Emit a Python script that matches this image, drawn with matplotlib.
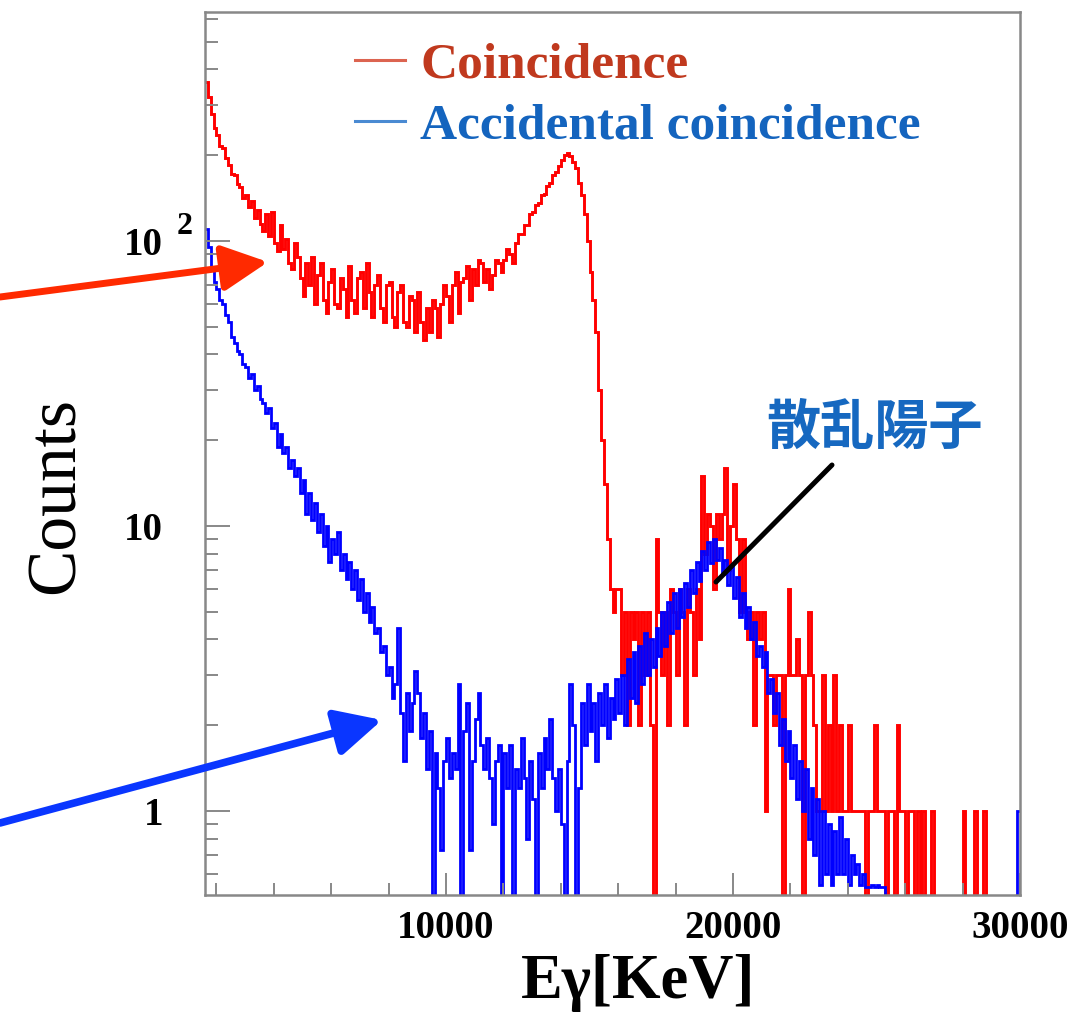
import numpy as np
import matplotlib
matplotlib.use("Agg")
import matplotlib.pyplot as plt
from matplotlib.lines import Line2D
from matplotlib.ticker import FixedLocator, NullFormatter, LogLocator

plt.rcParams['font.family'] = ['Liberation Serif', 'DejaVu Serif']

# histogram binning (keV)
e_start, e_stop, e_step = 1600, 30000, 100
edges = np.arange(e_start, e_stop + 1, e_step)

# Coincidence counts per 100 keV bin
coincidence = [
    360, 320, 280, 250, 235, 215, 212, 195, 185, 172, 170, 158, 155, 142, 145, 132, 138, 120, 128, 115,
    108, 124, 104, 126, 98, 92, 114, 94, 102, 84, 80, 98, 88, 74, 64, 84, 70, 88, 60, 76,
    84, 62, 56, 72, 80, 60, 58, 74, 68, 54, 82, 62, 56, 74, 78, 58, 84, 66, 54, 70,
    76, 58, 52, 70, 72, 54, 50, 66, 70, 52, 50, 64, 62, 48, 66, 52, 45, 58, 48, 62,
    58, 46, 60, 70, 64, 52, 70, 78, 56, 72, 74, 82, 62, 80, 70, 86, 84, 72, 80, 68,
    76, 86, 84, 78, 86, 94, 90, 84, 98, 106, 106, 114, 114, 124, 126, 134, 136, 145, 146, 156,
    160, 170, 174, 184, 192, 200, 204, 198, 190, 180, 160, 145, 124, 100, 78, 62, 48, 30, 20, 14,
    9, 6, 5, 6, 6, 3, 5, 2, 5, 4, 5, 2, 5, 3, 5, 2, 0, 9, 5, 3,
    5, 2, 6, 5, 3, 6, 5, 2, 6, 5, 3, 6, 4, 15, 8, 11, 10, 6, 11, 9,
    11, 16, 7, 10, 14, 9, 5, 9, 5, 4, 5, 2, 5, 4, 5, 1, 3, 3, 2, 3,
    3, 0, 3, 6, 3, 3, 4, 3, 0, 3, 5, 3, 2, 1, 1, 3, 1, 2, 1, 3,
    1, 2, 1, 1, 2, 1, 1, 1, 1, 1, 0, 1, 1, 2, 1, 1, 1, 0, 1, 1,
    0, 2, 1, 1, 0, 1, 1, 0, 1, 0, 1, 0, 0, 1, 0, 0, 0, 0, 0, 0,
    0, 0, 0, 0, 1, 0, 0, 0, 1, 0, 0, 1, 0, 0, 0, 0, 0, 0, 0, 0,
    0, 0, 0, 0,
]

# Accidental coincidence counts per 100 keV bin
accidental = [
    110, 95, 80, 72, 68, 62, 60, 55, 52, 46, 44, 41, 40, 37, 36, 33, 34, 30, 31, 28,
    27, 25, 26, 22, 23, 19, 21, 18, 19, 16, 17, 15, 16, 13, 14.5, 11, 13, 10.5, 12, 9.5,
    11, 8.5, 10, 7.5, 9, 8, 9.5, 7, 8, 6.5, 7.5, 6, 7, 5.5, 6.5, 5, 5.8, 4.6, 5.2, 4.2,
    4.4, 3.6, 3.8, 3.0, 3.2, 2.5, 2.8, 4.4, 2.2, 1.5, 2.6, 1.9, 2.4, 3.1, 2.6, 1.8, 2.2, 1.4, 1.9, 0,
    1.6, 1.2, 0.73, 1.5, 1.8, 1.3, 1.6, 1.4, 2.8, 0, 1.9, 2.4, 0.73, 1.5, 2.1, 2.6, 1.7, 1.4, 1.8, 1.3,
    0.9, 1.5, 1.7, 0, 1.6, 1.2, 1.7, 0, 1.4, 1.2, 1.8, 1.3, 0.8, 1.5, 1.1, 0, 1.6, 1.2, 1.8, 1.4,
    2.1, 1.3, 1.0, 1.4, 0.9, 0, 1.5, 2.8, 2.0, 0, 1.2, 2.4, 1.7, 2.8, 1.9, 2.4, 1.5, 2.6, 2.0, 2.8,
    1.8, 2.5, 2.1, 2.9, 2.2, 3.0, 2.0, 3.4, 2.5, 3.6, 2.4, 3.8, 2.8, 4.2, 3.0, 4.0, 3.2, 4.4, 3.5, 5.0,
    3.8, 5.4, 4.2, 5.8, 4.4, 6.0, 4.8, 6.3, 5.2, 7.0, 5.8, 7.5, 6.4, 8.2, 7.0, 8.8, 7.4, 9.0, 7.6, 8.4,
    6.8, 7.6, 6.2, 7.2, 5.6, 6.6, 4.8, 5.8, 4.4, 5.2, 4.0, 4.6, 3.5, 3.8, 3.2, 3.6, 2.6, 2.9, 2.2, 2.6,
    1.7, 2.1, 1.5, 1.9, 1.3, 1.7, 1.1, 1.5, 1.0, 1.4, 0.8, 1.2, 0.7, 1.1, 0.55, 1.0, 0.6, 0.9, 0.55, 0.85,
    0.6, 0.95, 0.6, 0.8, 0.55, 0.7, 0.6, 0.65, 0.55, 0.6, 0.54, 0.54, 0.55, 0.54, 0.55, 0.54, 0.54, 0, 0, 0,
    0, 0, 0, 0, 0, 0, 0, 0, 0, 0, 0, 0, 0, 0, 0, 0, 0, 0, 0, 0,
    0, 0, 0, 0, 0, 0, 0, 0, 0, 0, 0, 0, 0, 0, 0, 0, 0, 0, 0, 0,
    0, 0, 0, 1,
]

legend_labels = ['Coincidence', 'Accidental coincidence']
ytick_vals = [1, 10, 100]
ytick_text = ['1', '10', '10']
xtick_vals = [10000, 20000, 30000]

fig = plt.figure(figsize=(10.85, 10.13), dpi=100)
ax = fig.add_axes([205 / 1085, 1 - 895 / 1013, 815 / 1085, 883 / 1013])

ax.stairs(coincidence, edges, baseline=None, color='#ff0000', lw=2.1)
ax.stairs(accidental, edges, baseline=None, color='#0000ff', lw=2.0)

ax.set_yscale('log', nonpositive='clip')
ax.set_xlim(e_start, e_stop)
ax.set_ylim(0.507, 636)

# axes styling
for sp in ax.spines.values():
    sp.set_color('#888888')
    sp.set_linewidth(1.8)
ax.xaxis.set_major_locator(FixedLocator(xtick_vals))
ax.xaxis.set_minor_locator(FixedLocator(np.arange(2000, 30000, 2000)))
ax.yaxis.set_major_locator(FixedLocator(ytick_vals))
ax.yaxis.set_minor_locator(LogLocator(base=10, subs=np.arange(2, 10)))
ax.yaxis.set_minor_formatter(NullFormatter())
ax.set_yticklabels(ytick_text)
ax.set_xticklabels([str(v) for v in xtick_vals])
ax.tick_params(axis='both', which='both', direction='in', color='#888888', width=1.4)
ax.tick_params(axis='y', which='major', length=18, pad=30)
ax.tick_params(axis='y', which='minor', length=9)
ax.tick_params(axis='x', which='major', length=16, pad=11)
ax.tick_params(axis='x', which='minor', length=8.5)
for lab in ax.get_xticklabels() + ax.get_yticklabels():
    lab.set_fontsize(28)
    lab.set_fontweight('bold')
# exponent of the 10^2 label
ax.text(-0.0245, 112, '2', transform=ax.get_yaxis_transform(), fontsize=23,
        fontweight='bold', ha='center', va='center')

ax.set_xlabel('Eγ[KeV]', fontsize=45, fontweight='bold')
ax.xaxis.label.set_va('center')
ax.xaxis.set_label_coords(0.531, -0.0997)
ax.set_ylabel('Counts', fontsize=50)
ax.yaxis.label.set_va('center')
ax.yaxis.set_label_coords(-0.182, 0.453)

# legend
handles = [Line2D([], [], color='#dc6450', lw=2.2), Line2D([], [], color='#4a8ad2', lw=2.2)]
leg = ax.legend(handles, legend_labels, loc='upper left', bbox_to_anchor=(0.184, 0.966),
                frameon=False, prop={'size': 37, 'weight': 'bold'}, handlelength=0.97,
                handletextpad=0.3, labelspacing=0.27, borderpad=0, borderaxespad=0)
for txt, c in zip(leg.get_texts(), ['#c0391e', '#1464be']):
    txt.set_color(c)

# annotations
ax.annotate('', xy=(268 / 1085, 1 - 262 / 1013), xytext=(0, 1 - 297 / 1013),
            xycoords='figure fraction', textcoords='figure fraction', annotation_clip=False,
            arrowprops=dict(arrowstyle='-|>,head_length=1.4,head_width=0.7', mutation_scale=20,
                            lw=5, color='#ff2a00', shrinkA=0, shrinkB=0))
ax.annotate('', xy=(382 / 1085, 1 - 720 / 1013), xytext=(0, 1 - 823 / 1013),
            xycoords='figure fraction', textcoords='figure fraction', annotation_clip=False,
            arrowprops=dict(arrowstyle='-|>,head_length=1.4,head_width=0.7', mutation_scale=20,
                            lw=5.5, color='#0a36ff', shrinkA=0, shrinkB=0))
ax.annotate('', xy=(716 / 1085, 1 - 582 / 1013), xytext=(832 / 1085, 1 - 465 / 1013),
            xycoords='figure fraction', textcoords='figure fraction', annotation_clip=False,
            arrowprops=dict(arrowstyle='-', lw=3.6, color='black', shrinkA=0, shrinkB=0))
fig.text(875 / 1085, 1 - 428 / 1013, '散乱陽子', family=['Noto Sans CJK JP', 'DejaVu Sans'],
         fontsize=39, fontweight='bold', color='#1668c0', ha='center', va='center')

fig.savefig('out.png', dpi=100)
